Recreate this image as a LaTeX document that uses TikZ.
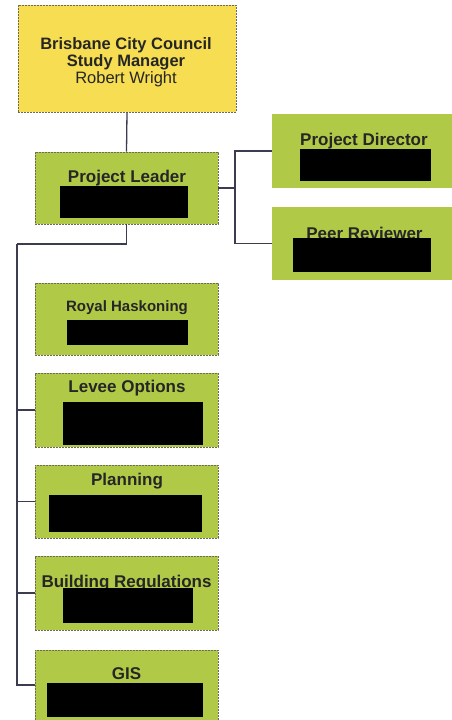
\documentclass[tikz,border=0pt]{standalone}
\usepackage{fontspec}
\setmainfont{Liberation Sans}
\definecolor{boxgreen}{HTML}{B0CA48}
\definecolor{boxyellow}{HTML}{F6DD52}
\definecolor{edgegray}{HTML}{6E6A55}
\definecolor{linecol}{HTML}{3C3C50}
\tikzset{
  gbox/.style={rectangle, fill=boxgreen, draw=edgegray, dash pattern=on 2pt off 1pt, line width=0.7pt, inner sep=0pt},
  rbox/.style={rectangle, fill=boxgreen, inner sep=0pt},
  ybox/.style={rectangle, fill=boxyellow, draw=edgegray, dash pattern=on 2pt off 1pt, line width=0.8pt, inner sep=0pt},
  redact/.style={rectangle, fill=black, inner sep=0pt},
  ttl/.style={inner sep=0pt, font=\fontsize{17}{18}\selectfont\bfseries, text=black!85},
  conn/.style={draw=linecol, line width=1.3pt}
}
\begin{document}
\begin{tikzpicture}[x=1pt,y=-1pt]
\useasboundingbox (0,0) rectangle (451,720);
% top box
\node[ybox, minimum width=218pt, minimum height=107pt] (top) at (127,58.5) {};
\node[inner sep=0pt, align=center, font=\fontsize{16.5}{17}\selectfont, text=black!85] (toptxt) at (126,62.5)
  {\textbf{Brisbane City Council}\\\textbf{Study Manager}\\Robert Wright};
% project leader
\node[gbox, minimum width=183pt, minimum height=72pt] (pl) at (126.5,188) {};
\node[ttl] (pltxt) at (127,178) {Project Leader};
\node[redact, minimum width=128pt, minimum height=32pt] (plr) at (124,202) {};
% right boxes
\node[rbox, minimum width=180pt, minimum height=74pt] (pd) at (362,151) {};
\node[ttl] (pdtxt) at (364,141) {Project Director};
\node[redact, minimum width=131pt, minimum height=32pt] (pdr) at (365.5,165) {};
\node[rbox, minimum width=180pt, minimum height=73pt] (pr) at (362,243.5) {};
\node[ttl] (prtxt) at (364.5,233) {Peer Reviewer};
\node[redact, minimum width=138pt, minimum height=34pt] (prr) at (362,255) {};
% left column
\node[gbox, minimum width=183pt, minimum height=72pt] (rh) at (126.5,319) {};
\node[ttl, font=\fontsize{15}{17}\selectfont\bfseries] (rhtxt) at (127,307.5) {Royal Haskoning};
\node[redact, minimum width=121pt, minimum height=25pt] (rhr) at (127.5,332.5) {};
\node[gbox, minimum width=183pt, minimum height=74pt] (lv) at (126.5,410) {};
\node[ttl] (lvtxt) at (127,388) {Levee Options};
\node[redact, minimum width=140pt, minimum height=43pt] (lvr) at (133,423.5) {};
\node[gbox, minimum width=183pt, minimum height=73pt] (pn) at (126.5,501.5) {};
\node[ttl] (pntxt) at (127,481) {Planning};
\node[redact, minimum width=153pt, minimum height=37pt] (pnr) at (125.5,513.5) {};
\node[gbox, minimum width=183pt, minimum height=74pt] (br) at (126.5,593) {};
\node[ttl] (brtxt) at (126.5,583) {Building Regulations};
\node[redact, minimum width=130pt, minimum height=35pt] (brr) at (128,605) {};
\node[gbox, minimum width=183pt, minimum height=70pt] (gis) at (126.5,685) {};
\node[ttl] (gistxt) at (126.5,674) {GIS};
\node[redact, minimum width=156pt, minimum height=34pt] (gisr) at (125,700) {};
% connectors
\coordinate (rj) at (235,188);
\coordinate (lj) at (17,244);
\draw[conn] (top.south) -- (pl.north);
\draw[conn] (pl.east) -- (rj);
\draw[conn] (pd.west) -| (rj);
\draw[conn] (pr.west) -| (rj);
\draw[conn] (pl.south) |- (lj);
\draw[conn] (lj) |- (gis.west);
\draw[conn] (lv.west) -- (lv.west -| lj);
\draw[conn] (pn.west) -- (pn.west -| lj);
\draw[conn] (br.west) -- (br.west -| lj);
\end{tikzpicture}
\end{document}
